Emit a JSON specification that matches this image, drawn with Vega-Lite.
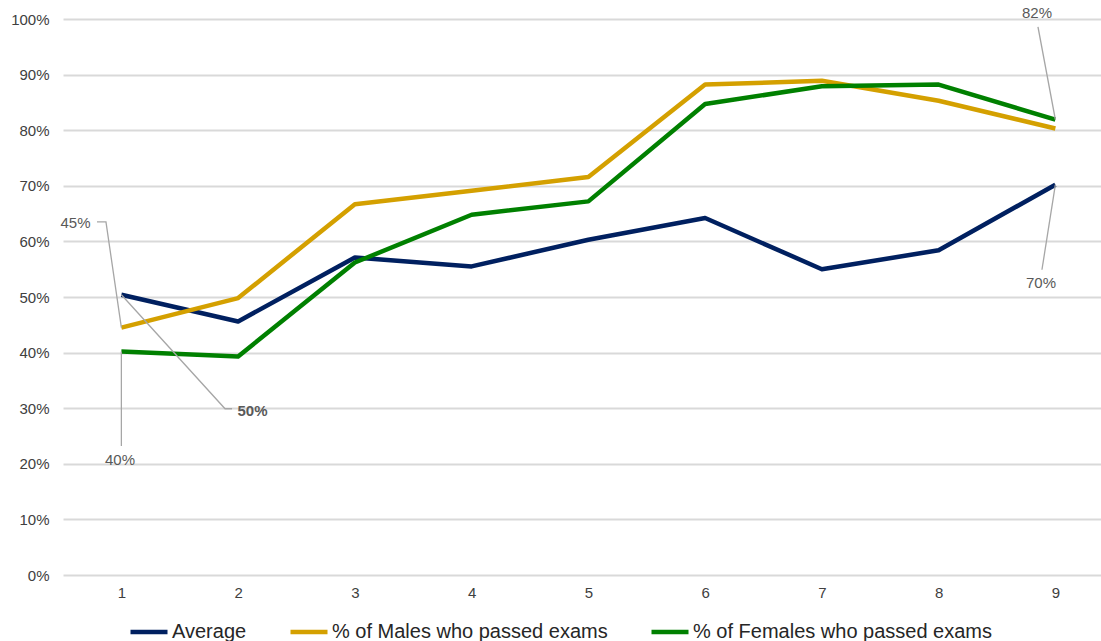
{
  "$schema": "https://vega.github.io/schema/vega-lite/v6.json",
  "width": 1038,
  "height": 556,
  "autosize": {"type": "none"},
  "padding": {"left": 63, "top": 19, "right": 0, "bottom": 66},
  "background": "white",
  "config": {
    "view": {"stroke": null},
    "font": "Liberation Sans",
    "axis": {"labelFont": "Liberation Sans", "labelColor": "#404040", "labelFontSize": 15, "ticks": false, "domain": false, "title": null}
  },
  "datasets": {
    "series": [
      {"x": 1, "y": 0.504, "series": "Average"},
      {"x": 2, "y": 0.456, "series": "Average"},
      {"x": 3, "y": 0.571, "series": "Average"},
      {"x": 4, "y": 0.555, "series": "Average"},
      {"x": 5, "y": 0.603, "series": "Average"},
      {"x": 6, "y": 0.642, "series": "Average"},
      {"x": 7, "y": 0.550, "series": "Average"},
      {"x": 8, "y": 0.584, "series": "Average"},
      {"x": 9, "y": 0.702, "series": "Average"},
      {"x": 1, "y": 0.445, "series": "% of Males who passed exams"},
      {"x": 2, "y": 0.498, "series": "% of Males who passed exams"},
      {"x": 3, "y": 0.667, "series": "% of Males who passed exams"},
      {"x": 4, "y": 0.691, "series": "% of Males who passed exams"},
      {"x": 5, "y": 0.716, "series": "% of Males who passed exams"},
      {"x": 6, "y": 0.882, "series": "% of Males who passed exams"},
      {"x": 7, "y": 0.889, "series": "% of Males who passed exams"},
      {"x": 8, "y": 0.853, "series": "% of Males who passed exams"},
      {"x": 9, "y": 0.803, "series": "% of Males who passed exams"},
      {"x": 1, "y": 0.402, "series": "% of Females who passed exams"},
      {"x": 2, "y": 0.393, "series": "% of Females who passed exams"},
      {"x": 3, "y": 0.562, "series": "% of Females who passed exams"},
      {"x": 4, "y": 0.648, "series": "% of Females who passed exams"},
      {"x": 5, "y": 0.672, "series": "% of Females who passed exams"},
      {"x": 6, "y": 0.847, "series": "% of Females who passed exams"},
      {"x": 7, "y": 0.879, "series": "% of Females who passed exams"},
      {"x": 8, "y": 0.882, "series": "% of Females who passed exams"},
      {"x": 9, "y": 0.819, "series": "% of Females who passed exams"}
    ],
    "leaders": [
      {"id": "L45", "seq": 1, "x": 0.791, "y": 0.635},
      {"id": "L45", "seq": 2, "x": 0.868, "y": 0.635},
      {"id": "L45", "seq": 3, "x": 1.0, "y": 0.445},
      {"id": "L50", "seq": 1, "x": 1.0, "y": 0.504},
      {"id": "L50", "seq": 2, "x": 1.888, "y": 0.299},
      {"id": "L50", "seq": 3, "x": 1.948, "y": 0.299},
      {"id": "L40", "seq": 1, "x": 1.0, "y": 0.402},
      {"id": "L40", "seq": 2, "x": 1.0, "y": 0.232},
      {"id": "L82", "seq": 1, "x": 8.851, "y": 0.986},
      {"id": "L82", "seq": 2, "x": 9.0, "y": 0.819},
      {"id": "L70", "seq": 1, "x": 9.0, "y": 0.702},
      {"id": "L70", "seq": 2, "x": 8.885, "y": 0.549}
    ],
    "callouts": [
      {"x": 0.607, "y": 0.633, "label": "45%", "bold": false},
      {"x": 2.123, "y": 0.295, "label": "50%", "bold": true},
      {"x": 0.988, "y": 0.207, "label": "40%", "bold": false},
      {"x": 8.843, "y": 1.011, "label": "82%", "bold": false},
      {"x": 8.877, "y": 0.525, "label": "70%", "bold": false}
    ]
  },
  "encoding": {
    "x": {
      "field": "x", "type": "quantitative",
      "scale": {"domain": [0.5, 9.3908], "nice": false, "zero": false},
      "axis": {"values": [1, 2, 3, 4, 5, 6, 7, 8, 9], "format": "d", "grid": false, "labelPadding": 10, "labelFlush": false}
    },
    "y": {
      "field": "y", "type": "quantitative",
      "scale": {"domain": [0, 1], "nice": false},
      "axis": {"values": [0, 0.1, 0.2, 0.3, 0.4, 0.5, 0.6, 0.7, 0.8, 0.9, 1], "format": ".0%", "grid": true, "gridColor": "#d9d9d9", "gridWidth": 2, "labelPadding": 14, "labelFlush": false}
    }
  },
  "layer": [
    {
      "data": {"name": "series"},
      "mark": {"type": "line", "strokeWidth": 4.5, "strokeJoin": "round"},
      "encoding": {
        "color": {
          "field": "series", "type": "nominal",
          "sort": ["Average", "% of Males who passed exams", "% of Females who passed exams"],
          "scale": {"domain": ["Average", "% of Males who passed exams", "% of Females who passed exams"], "range": ["#002060", "#d4a000", "#008000"]},
          "legend": {
            "orient": "none", "legendX": 65, "legendY": 592, "direction": "horizontal",
            "title": null, "padding": 0,
            "symbolType": "stroke", "symbolSize": 1369, "symbolStrokeWidth": 4.5,
            "labelFontSize": 20, "labelColor": "#262626", "labelFont": "Liberation Sans",
            "labelOffset": 2, "columnPadding": 34, "labelLimit": 500
          }
        }
      }
    },
    {
      "data": {"name": "leaders"},
      "mark": {"type": "line", "stroke": "#a6a6a6", "strokeWidth": 1.3},
      "encoding": {
        "detail": {"field": "id", "type": "nominal"},
        "order": {"field": "seq", "type": "quantitative"}
      }
    },
    {
      "data": {"name": "callouts"},
      "transform": [{"filter": "!datum.bold"}],
      "mark": {"type": "text", "fontSize": 15, "color": "#595959", "align": "center", "baseline": "middle"},
      "encoding": {
        "text": {"field": "label", "type": "nominal"}
      }
    },
    {
      "data": {"name": "callouts"},
      "transform": [{"filter": "datum.bold"}],
      "mark": {"type": "text", "fontSize": 15, "fontWeight": "bold", "color": "#595959", "align": "center", "baseline": "middle"},
      "encoding": {
        "text": {"field": "label", "type": "nominal"}
      }
    }
  ]
}
